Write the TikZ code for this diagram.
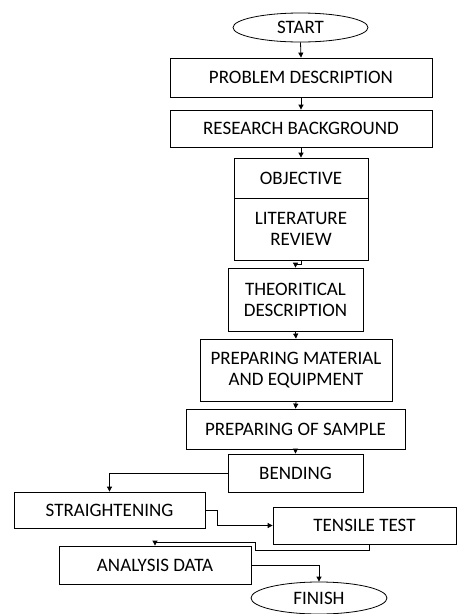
\documentclass[tikz,border=0pt]{standalone}
\usepackage{fontspec}
\setmainfont{Carlito}
\usetikzlibrary{arrows.meta,shapes.geometric}
\begin{document}
\begin{tikzpicture}[x=1pt,y=-1pt,
  every node/.style={font=\fontsize{19}{21}\selectfont},
  box/.style={draw,line width=0.8pt,rectangle,inner sep=0pt,align=center},
  oval/.style={draw,line width=0.8pt,ellipse,inner sep=0pt},
  conn/.style={line width=0.8pt,-{Triangle[length=5pt,width=5pt]}},
  plain/.style={line width=0.8pt}]
\useasboundingbox (0,0) rectangle (457,614);
% nodes: center x, center y, width, height
\node[oval,minimum width=135pt,minimum height=29pt] (start) at (300.5,27.5) {START};
\node[box,minimum width=262pt,minimum height=39pt] (pd) at (301,77.5) {PROBLEM DESCRIPTION};
\node[box,minimum width=262pt,minimum height=37pt] (rb) at (301,128.5) {RESEARCH BACKGROUND};
\node[box,minimum width=134pt,minimum height=40pt] (obj) at (301,178) {OBJECTIVE};
\node[box,minimum width=134pt,minimum height=62pt] (lit) at (301,229) {LITERATURE\\REVIEW};
\node[box,minimum width=135pt,minimum height=63pt] (th) at (295.5,299.5) {THEORITICAL\\DESCRIPTION};
\node[box,minimum width=192pt,minimum height=62pt] (pm) at (296,370) {PREPARING MATERIAL\\AND EQUIPMENT};
\node[box,minimum width=219pt,minimum height=40pt] (ps) at (295.5,429) {PREPARING OF SAMPLE};
\node[box,minimum width=135pt,minimum height=38pt] (bend) at (295.5,473) {BENDING};
\node[box,minimum width=191pt,minimum height=36pt] (str) at (109.5,510) {STRAIGHTENING};
\node[box,minimum width=183pt,minimum height=37pt] (ten) at (364.5,525.5) {TENSILE TEST};
\node[box,minimum width=192pt,minimum height=38pt] (an) at (155,565) {ANALYSIS DATA};
\node[oval,minimum width=136pt,minimum height=32pt] (fin) at (319,598) {FINISH};
% helper coordinates
\coordinate (j1) at (217,510);
\coordinate (t1) at (369,544);
\coordinate (t2) at (369,550);
\coordinate (t3) at (255,550);
\coordinate (t4) at (255,542);
% connectors
\draw[conn] (start.south) -- (pd.north);
\draw[conn] (pd.south) -- (rb.north);
\draw[conn] (rb.south) -- (obj.north);
\draw[conn] (lit.south) -- ++(0,4) -| (th.north);
\draw[conn] (th.south) -- (pm.north);
\draw[conn] (pm.south) -- (ps.north);
\draw[conn] (ps.south) -- (bend.north);
\draw[conn] (bend.west) -| (str.north);
\draw[conn] (str.east) -- (j1) |- (ten.west);
\draw[conn] (t1) -- (t2) -- (t3) -- (t4) -| (an.north);
\draw[conn] (an.east) -| (fin.north);
\end{tikzpicture}
\end{document}
